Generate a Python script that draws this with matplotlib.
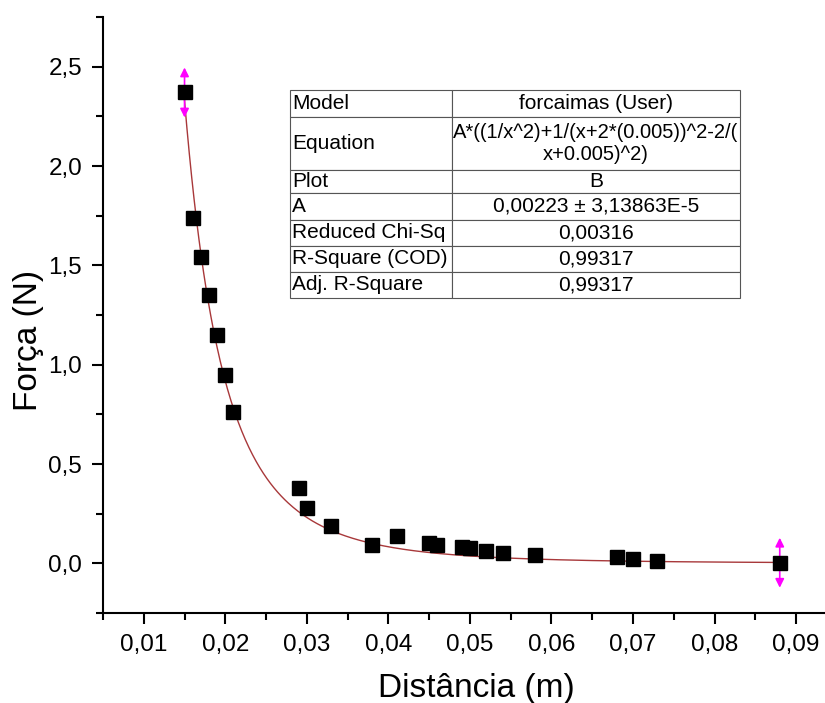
import numpy as np
import matplotlib.pyplot as plt
from matplotlib.table import Table
from matplotlib.ticker import MultipleLocator, FuncFormatter

plt.rcParams['font.family'] = ['Liberation Sans', 'DejaVu Sans']

# measured points
distancia = [0.015, 0.016, 0.017, 0.018, 0.019, 0.020, 0.021,
             0.029, 0.030, 0.033, 0.038, 0.041, 0.045, 0.046, 0.049, 0.050,
             0.052, 0.054, 0.058, 0.068, 0.070, 0.073, 0.088]
forca = [2.37, 1.74, 1.54, 1.35, 1.15, 0.95, 0.76,
         0.38, 0.28, 0.19, 0.09, 0.14, 0.10, 0.09, 0.08, 0.075,
         0.062, 0.054, 0.040, 0.032, 0.024, 0.014, 0.003]

# fit result (forcaimas model)
A = 0.00223
d = 0.005

table_rows = [
    ["Model", "forcaimas (User)"],
    ["Equation", "A*((1/x^2)+1/(x+2*(0.005))^2-2/(\nx+0.005)^2)"],
    ["Plot", "B"],
    ["A", "0,00223 \u00b1 3,13863E-5"],
    ["Reduced Chi-Sq", "0,00316"],
    ["R-Square (COD)", "0,99317"],
    ["Adj. R-Square", "0,99317"],
]
row_heights = [27, 53, 23, 27, 26, 26, 26]
col_widths = [162, 288]

fig = plt.figure(figsize=(8.25, 7.03), dpi=100)
ax = fig.add_axes([103 / 825, 1 - 613 / 703, 722 / 825, 596 / 703])

xf = np.linspace(min(distancia), max(distancia), 500)
yf = A * (1 / xf**2 + 1 / (xf + 2 * d)**2 - 2 / (xf + d)**2)
ax.plot(xf, yf, color='#a8383a', lw=1, zorder=2)

# Origin selection arrows on the end points
for i in (0, -1):
    for dy in (18, -18):
        ax.annotate('', xy=(distancia[i], forca[i]), xycoords='data',
                    xytext=(0, dy), textcoords='offset points',
                    arrowprops=dict(arrowstyle='<|-', color='#ff00ff',
                                    lw=1.2, mutation_scale=13,
                                    shrinkA=0, shrinkB=0), zorder=3)

ax.plot(distancia, forca, 's', color='black', ms=10, zorder=4)

ax.set_xlim(0.005, 0.09355)
ax.set_ylim(-0.25, 2.75)
ax.spines['top'].set_visible(False)
ax.spines['right'].set_visible(False)
ax.spines['left'].set_linewidth(1.5)
ax.spines['bottom'].set_linewidth(1.5)

ax.xaxis.set_minor_locator(MultipleLocator(0.005))
ax.yaxis.set_major_locator(MultipleLocator(0.5))
ax.yaxis.set_minor_locator(MultipleLocator(0.25))
ax.set_xticks(np.arange(0.01, 0.095, 0.01))
ax.xaxis.set_major_formatter(FuncFormatter(lambda v, p: f"{v:.2f}".replace('.', ',')))
ax.yaxis.set_major_formatter(FuncFormatter(lambda v, p: f"{v:.1f}".replace('.', ',')))
ax.tick_params(which='major', direction='out', length=8, width=1.5, labelsize=17.5, pad=7)
ax.tick_params(which='minor', direction='out', length=5, width=1.5)

ax.set_xlabel("Distância (m)", fontsize=24)
ax.set_ylabel("Força (N)", fontsize=24)
ax.xaxis.set_label_coords(0.5166, -0.1)
ax.yaxis.set_label_coords(-0.082, 0.458)

# parameter table
tb = Table(ax, bbox=[(290 - 103) / 722, (613 - 298) / 596, 450 / 722, 208 / 596])
tb.auto_set_font_size(False)
for r, (row, h) in enumerate(zip(table_rows, row_heights)):
    for c, (txt, w) in enumerate(zip(row, col_widths)):
        cell = tb.add_cell(r, c, w, h, text=txt, loc='left' if c == 0 else 'center',
                           edgecolor='#555555', facecolor='white')
        cell.PAD = 0.012
        cell.set_linewidth(0.8)
        cell.get_text().set_fontsize(14.5 if r == 1 and c == 1 else 15)
ax.add_table(tb)

fig.savefig('out.png', dpi=100)
